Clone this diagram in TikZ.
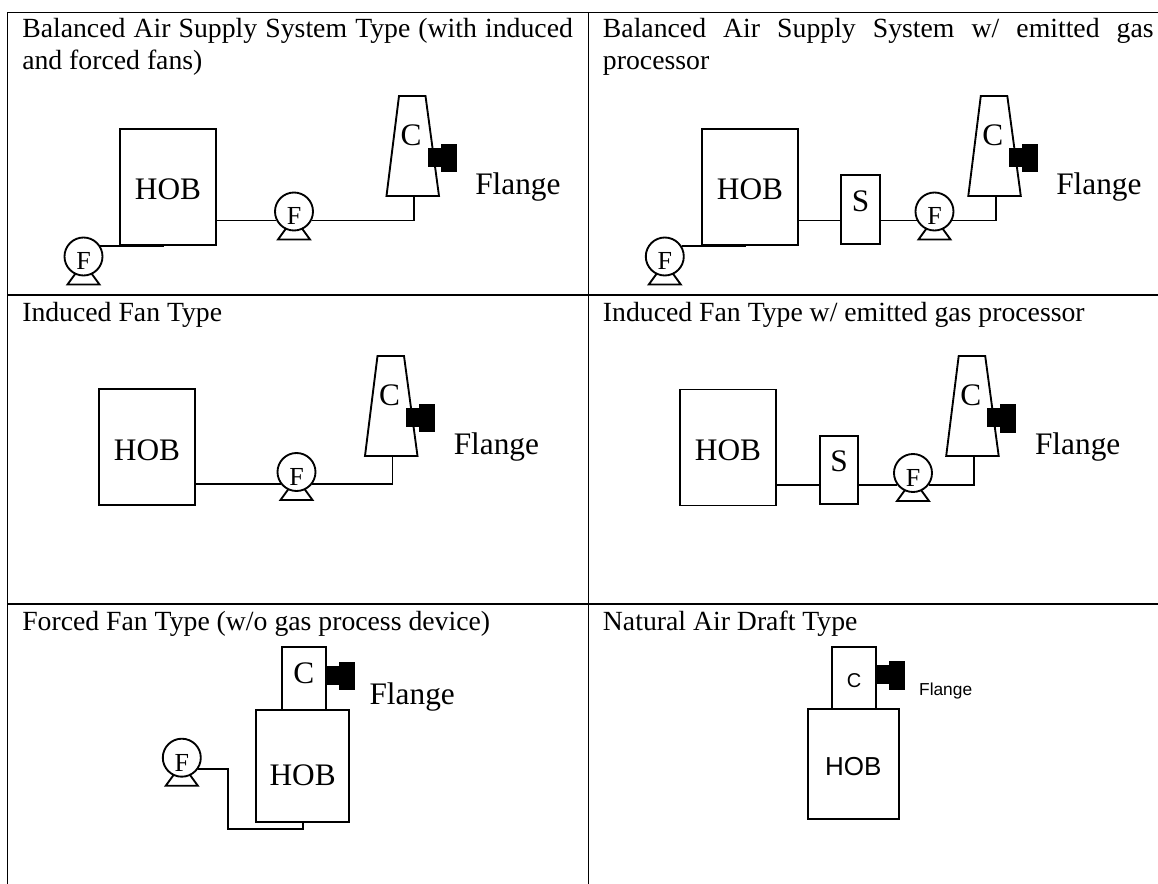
\documentclass[tikz,border=0pt]{standalone}
\usepackage{fontspec}
\setmainfont{Liberation Serif}
\newfontfamily\hobsans{Liberation Sans}
\tikzset{
	x=0.75pt, y=-0.75pt,
	wire/.style={line width=1.4pt},
	grid line/.style={line width=1.4pt},
	title/.style={anchor=north west, inner sep=0pt, font=\fontsize{20.8}{24}\selectfont, text width=413pt, align=justify},
	hobbox/.style={draw, line width=1.4pt, minimum width=72pt, minimum height=87pt, inner sep=0pt, text height=19.5pt, text depth=0pt, font=\fontsize{23.5}{23.5}\selectfont},
	sbox/.style={draw, line width=1.4pt, minimum width=29pt, minimum height=51.4pt, inner sep=0pt, text height=2.2pt, text depth=0pt, font=\fontsize{23.5}{23.5}\selectfont},
	cbox/.style={draw, line width=1.4pt, minimum width=33pt, minimum height=47.3pt, inner sep=0pt, text depth=0pt, font=\fontsize{23.5}{23.5}\selectfont},
	fanbody/.style={draw, circle, line width=1.4pt, minimum size=28.5pt, inner sep=0pt, text height=20pt, text depth=0pt, font=\fontsize{19.5}{19.5}\selectfont},
	flangetext/.style={anchor=base west, inner sep=0pt, font=\fontsize{23.5}{23.5}\selectfont},
}
% fan with its foot: name, x, y
\newcommand{\fanpic}[3]{
	\node[fanbody] (#1) at (#2,#3) {F};
	\draw[wire] (#2-8,#3+17) -- (#2-16,#3+28) -- (#2+16,#3+28) -- (#2+8,#3+17);
}
% tapered stack: name, x, y of the top left corner
\newcommand{\stackpic}[3]{
	\draw[wire] (#2,#3) -- (#2+26.5,#3) -- (#2+40,#3+100) -- (#2-12.5,#3+100) -- cycle;
	\node[anchor=base, inner sep=0pt, font=\fontsize{23.5}{23.5}\selectfont] (#1) at (#2+12,#3+50) {C};
	\coordinate (#1-foot) at (#2+15,#3+100);
}
% flange block: x, y of the top left corner of the small part
\newcommand{\flangepic}[2]{
	\fill (#1,#2) rectangle (#1+14,#2+19);
	\fill (#1+13,#2-4) rectangle (#1+28.5,#2+24.5);
}
\begin{document}
\begin{tikzpicture}
	\useasboundingbox (0,0) rectangle (1158,884);

	% table
	\coordinate (tl) at (7.5,12.5);
	\coordinate (tr) at (1158,12.5);
	\coordinate (bl) at (7.5,884);
	\draw[grid line] (bl) -- (tl) -- (tr);
	\draw[grid line] (7.5,295) -- (1158,295);
	\draw[grid line] (7.5,604) -- (1158,604);
	\draw[grid line] (588.5,12.5) -- (588.5,884);

	% titles
	\node[title] (t1) at (22,18) {Balanced Air Supply System Type (with induced and forced fans)};
	\node[title] (t2) at (602.7,18) {Balanced Air Supply System w/ emitted gas \mbox{processor}};
	\node[title] (t3) at (22,302) {Induced Fan Type};
	\node[title] (t4) at (602.7,302) {Induced Fan Type w/ emitted gas processor};
	\node[title] (t5) at (22,611) {Forced Fan Type (w/o gas process device)};
	\node[title] (t6) at (602.7,611) {Natural Air Draft Type};

	% balanced
	\node[hobbox] (hob1) at (168,187) {HOB};
	\fanpic{fan1a}{83.5}{256.5}
	\fanpic{fan1b}{294}{211.5}
	\stackpic{c1}{399}{96}
	\flangepic{428}{148}
	\node[flangetext] (fl1) at (475,195) {Flange};
	\draw[wire] (hob1.east |- fan1b.207) -- (fan1b.207);
	\draw[wire] (fan1b.333) -| (c1-foot);
	\draw[wire] (fan1a.32) -- (fan1a.32 -| 164,0);

	% balanced with processor
	\node[hobbox] (hob2) at (750,187) {HOB};
	\node[sbox] (s2) at (860.7,209.7) {S};
	\fanpic{fan2a}{664.8}{256.5}
	\fanpic{fan2b}{934.5}{211.5}
	\stackpic{c2}{980.8}{96}
	\flangepic{1009.4}{148}
	\node[flangetext] (fl2) at (1056,195) {Flange};
	\draw[wire] (hob2.east |- fan2b.207) -- (s2.west |- fan2b.207);
	\draw[wire] (s2.east |- fan2b.207) -- (fan2b.207);
	\draw[wire] (fan2b.333) -| (c2-foot);
	\draw[wire] (fan2a.32) -- (fan2a.32 -| 745.7,0);

	% induced
	\node[hobbox] (hob3) at (147,447) {HOB};
	\fanpic{fan3}{296.5}{472}
	\stackpic{c3}{377.5}{356}
	\flangepic{406}{408}
	\node[flangetext] (fl3) at (453.5,455) {Flange};
	\draw[wire] (hob3.east |- fan3.218) -- (fan3.218);
	\draw[wire] (fan3.322) -| (c3-foot);

	% induced with processor
	\node[hobbox] (hob4) at (728,447.5) {HOB};
	\node[sbox] (s4) at (839,470) {S};
	\fanpic{fan4}{913}{473}
	\stackpic{c4}{958.7}{356}
	\flangepic{987.3}{408.5}
	\node[flangetext] (fl4) at (1034.8,455) {Flange};
	\draw[wire] (hob4.east |- fan4.218) -- (s4.west |- fan4.218);
	\draw[wire] (s4.east |- fan4.218) -- (fan4.218);
	\draw[wire] (fan4.322) -| (c4-foot);

	% forced
	\node[hobbox, minimum width=69.5pt, minimum height=83.8pt, text height=28.5pt] (hob5) at (302.7,766) {HOB};
	\node[cbox, text height=7pt] (c5) at (303.7,678.4) {C};
	\flangepic{326}{665.7}
	\node[flangetext] (fl5) at (369.3,704) {Flange};
	\fanpic{fan5}{181.8}{757.7}
	\coordinate (k5) at (227.7,829.3);
	\draw[wire] (fan5.326) -| (k5) -- (k5 -| hob5.south) -- (hob5.south);

	% natural draft
	\node[hobbox, font=\hobsans\fontsize{19.5}{19.5}\selectfont, minimum width=68.5pt, minimum height=83pt, text height=17pt] (hob6) at (853.3,764) {HOB};
	\node[cbox, font=\hobsans\fontsize{15}{15}\selectfont, minimum width=32.8pt, minimum height=46.5pt, text height=15pt] (c6) at (854.2,677.7) {C};
	\flangepic{876}{665}
	\node[flangetext, font=\hobsans\fontsize{13}{13}\selectfont] (fl6) at (918.9,695.3) {Flange};
\end{tikzpicture}
\end{document}
